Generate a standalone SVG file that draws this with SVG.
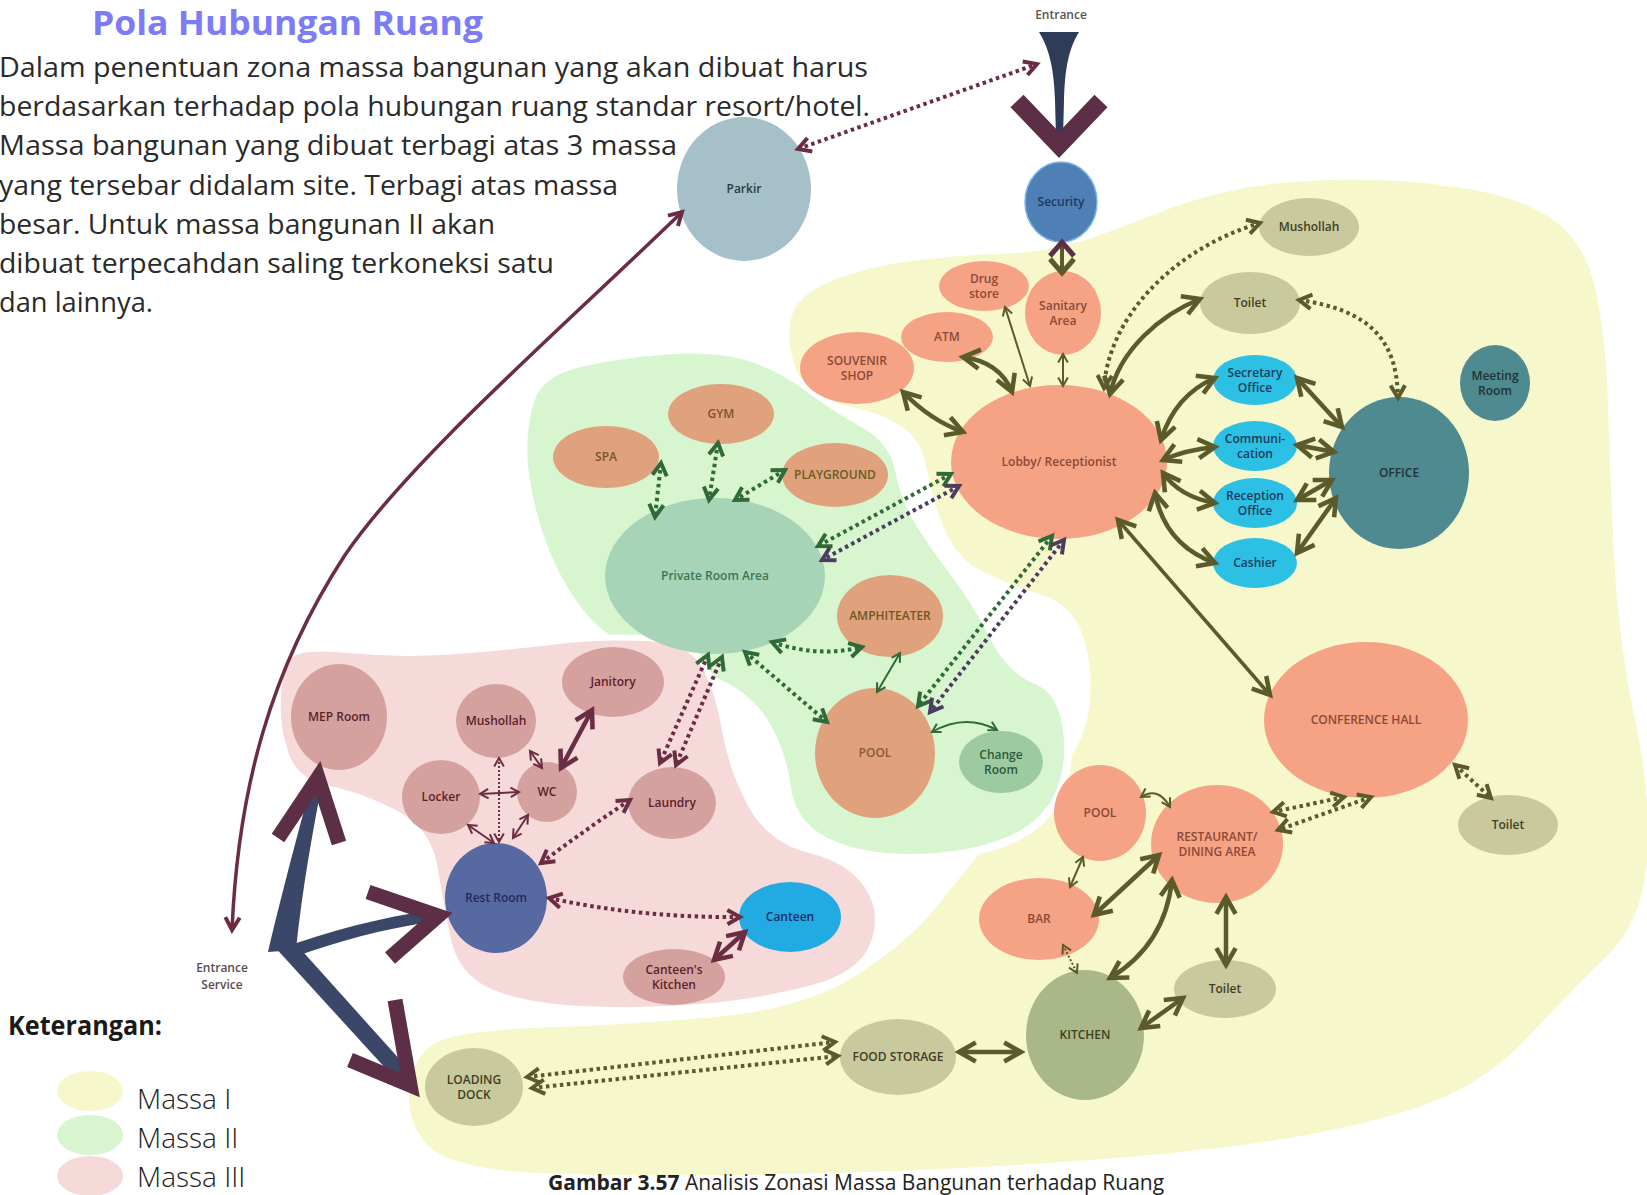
<svg xmlns="http://www.w3.org/2000/svg" width="1647" height="1195" viewBox="0 0 1647 1195">
<style>
  .lbl{font-family:"Open Sans","Noto Sans",sans-serif;font-size:12px;font-weight:600;text-anchor:middle}
  .para{font-family:"Open Sans","Noto Sans",sans-serif;font-size:28px;fill:#2a2a2a}
  .leg{font-family:"Open Sans","Noto Sans",sans-serif;font-size:28px;font-weight:300;fill:#222}
  .salmon{fill:#f6a285}.tan{fill:#e0a27c}.priv{fill:#a7d4b6}.chg{fill:#9ecaa2}
  .oliv{fill:#c9c99e}.kit{fill:#aab789}.cyan{fill:#2cc0e4}.teal{fill:#4f8a90}
  .pnk{fill:#d5a19f}.rest{fill:#5769a1}.cant{fill:#22aae2}
  .ts{fill:#8b4a36}.tt{fill:#7a5230}.to{fill:#3f3f22}.tc{fill:#1d3c5c}.tte{fill:#1f3336}
  .tp{fill:#5c1e2c}.tg{fill:#3b7656}
  .c{fill:none}
  .ol{stroke:#5a5a2b}.gr{stroke:#2f6a38}.mr{stroke:#6b2d43}.pu{stroke:#4b3c60}
  .thick{stroke-width:4.5}.thin{stroke-width:2}
  .dot{stroke-width:4;stroke-dasharray:3.5 3.5}
  .dots{stroke-width:2;stroke-dasharray:2 2}
</style>
<defs>
  <marker id="aoL" viewBox="0 0 20 20" refX="17" refY="10" markerWidth="24" markerHeight="24" markerUnits="userSpaceOnUse" orient="auto-start-reverse" overflow="visible"><path d="M3,2 L17,10 L3,18" fill="none" stroke="#5a5a2b" stroke-width="3.8"/></marker>
  <marker id="aoM" viewBox="0 0 20 20" refX="17" refY="10" markerWidth="18" markerHeight="18" markerUnits="userSpaceOnUse" orient="auto-start-reverse" overflow="visible"><path d="M3,2 L17,10 L3,18" fill="none" stroke="#5a5a2b" stroke-width="4.4"/></marker>
  <marker id="aoS" viewBox="0 0 20 20" refX="17" refY="10" markerWidth="12" markerHeight="12" markerUnits="userSpaceOnUse" orient="auto-start-reverse" overflow="visible"><path d="M3,2 L17,10 L3,18" fill="none" stroke="#5a5a2b" stroke-width="3.4"/></marker>
  <marker id="agM" viewBox="0 0 20 20" refX="17" refY="10" markerWidth="18" markerHeight="18" markerUnits="userSpaceOnUse" orient="auto-start-reverse" overflow="visible"><path d="M3,2 L17,10 L3,18" fill="none" stroke="#2f6a38" stroke-width="4.4"/></marker>
  <marker id="agS" viewBox="0 0 20 20" refX="17" refY="10" markerWidth="12" markerHeight="12" markerUnits="userSpaceOnUse" orient="auto-start-reverse" overflow="visible"><path d="M3,2 L17,10 L3,18" fill="none" stroke="#2f6a38" stroke-width="3.4"/></marker>
  <marker id="apM" viewBox="0 0 20 20" refX="17" refY="10" markerWidth="18" markerHeight="18" markerUnits="userSpaceOnUse" orient="auto-start-reverse" overflow="visible"><path d="M3,2 L17,10 L3,18" fill="none" stroke="#4b3c60" stroke-width="4.4"/></marker>
  <marker id="arL" viewBox="0 0 20 20" refX="17" refY="10" markerWidth="24" markerHeight="24" markerUnits="userSpaceOnUse" orient="auto-start-reverse" overflow="visible"><path d="M3,2 L17,10 L3,18" fill="none" stroke="#6b2d43" stroke-width="3.8"/></marker>
  <marker id="arM" viewBox="0 0 20 20" refX="17" refY="10" markerWidth="18" markerHeight="18" markerUnits="userSpaceOnUse" orient="auto-start-reverse" overflow="visible"><path d="M3,2 L17,10 L3,18" fill="none" stroke="#6b2d43" stroke-width="4.4"/></marker>
  <marker id="arS" viewBox="0 0 20 20" refX="17" refY="10" markerWidth="12" markerHeight="12" markerUnits="userSpaceOnUse" orient="auto-start-reverse" overflow="visible"><path d="M3,2 L17,10 L3,18" fill="none" stroke="#6b2d43" stroke-width="3.4"/></marker>
</defs>

<rect width="1647" height="1195" fill="#ffffff"/>

<!-- zone blobs -->
<g id="zones">
  <path id="zone-massa-1" fill="#f6f7cb" d="M795,366.5 Q785,335 792.5,314 Q800,293 835,279.5 Q870,266 915,260.5 Q960,255 1005,253.5 Q1050,252 1082.5,241 Q1115,230 1152.5,215 Q1190,200 1230,191 Q1270,182 1330,180 Q1390,178 1452.5,186.5 Q1515,195 1550,217.5 Q1585,240 1595.5,290 Q1606,340 1608,405 Q1610,470 1614,555 Q1618,640 1635,720 Q1652,800 1647,861 Q1642,922 1607,956 Q1572,990 1526,1039 Q1480,1088 1410,1110 Q1340,1132 1245,1144.5 Q1150,1157 1025,1164.5 Q900,1172 775,1174.5 Q650,1177 550,1173.5 Q450,1170 427.5,1145 Q405,1120 410,1085 Q415,1050 442.5,1040 Q470,1030 545,1027.5 Q620,1025 710,1017.5 Q800,1010 852.5,977.5 Q905,945 932.5,911.5 Q960,878 987.5,843 Q1015,808 1047.5,781.5 Q1080,755 1087.5,717.5 Q1095,680 1085,642.5 Q1075,605 1042.5,595 Q1010,585 984,572.5 Q958,560 945,530 Q932,500 927,470 Q922,440 901,426 Q880,412 842.5,405 Q805,398 795,366.5 Z"/>
  <path id="zone-massa-2" fill="#d7f6d0" stroke="#ffffff" stroke-width="8" d="M523.5,457.5 Q522,425 531,398.5 Q540,372 580,363 Q620,354 666,350.5 Q712,347 745,356 Q778,365 806.5,386.5 Q835,408 864,424 Q893,440 899,470 Q905,500 920,524 Q935,548 955,574 Q975,600 992.5,635 Q1010,670 1036,680 Q1062,690 1067,730 Q1072,770 1056,800 Q1040,830 1000,844 Q960,858 910,858 Q860,858 826,841.5 Q792,825 787,787.5 Q782,750 763.5,721 Q745,692 707.5,678.5 Q670,665 635,652.5 Q600,640 576,607.5 Q552,575 538.5,532.5 Q525,490 523.5,457.5 Z"/>
  <path id="zone-massa-3" fill="#f6dada" stroke="#ffffff" stroke-width="6" d="M278,696.5 Q280,668 289,656.5 Q298,645 349,650 Q400,655 450,651.5 Q500,648 550,642 Q600,636 645,638 Q690,640 704,665 Q718,690 725,730 Q732,770 751,805 Q770,840 810,850 Q850,860 867.5,886 Q885,912 873.5,943.5 Q862,975 811,988.5 Q760,1002 700,1007 Q640,1012 580,1009 Q520,1006 487.5,990.5 Q455,975 447.5,937.5 Q440,900 434,865 Q428,830 394,812.5 Q360,795 327.5,788.5 Q295,782 285.5,753.5 Q276,725 278,696.5 Z"/>
</g>

<!-- heading and description -->
<g id="heading">
  <text x="92" y="35" font-family="'Open Sans','Noto Sans',sans-serif" font-size="34" font-weight="700" fill="#7c7cf7" textLength="391" lengthAdjust="spacingAndGlyphs">Pola Hubungan Ruang</text>
  <text class="para" x="-1" y="77" textLength="869" lengthAdjust="spacingAndGlyphs">Dalam penentuan zona massa bangunan yang akan dibuat harus</text>
  <text class="para" x="-1" y="116" textLength="871" lengthAdjust="spacingAndGlyphs">berdasarkan terhadap pola hubungan ruang standar resort/hotel.</text>
  <text class="para" x="-1" y="155" textLength="678" lengthAdjust="spacingAndGlyphs">Massa bangunan yang dibuat terbagi atas 3 massa</text>
  <text class="para" x="-1" y="195" textLength="619" lengthAdjust="spacingAndGlyphs">yang tersebar didalam site. Terbagi atas massa</text>
  <text class="para" x="-1" y="234" textLength="496" lengthAdjust="spacingAndGlyphs">besar. Untuk massa bangunan II akan</text>
  <text class="para" x="-1" y="273" textLength="555" lengthAdjust="spacingAndGlyphs">dibuat terpecahdan saling terkoneksi satu</text>
  <text class="para" x="-1" y="312" textLength="154" lengthAdjust="spacingAndGlyphs">dan lainnya.</text>
</g>

<!-- legend -->
<g id="legend">
  <text x="8" y="1035" font-family="'Open Sans','Noto Sans',sans-serif" font-size="27" font-weight="700" fill="#1a1a1a" textLength="154" lengthAdjust="spacingAndGlyphs">Keterangan:</text>
  <ellipse cx="90" cy="1091" rx="33" ry="20" fill="#f6f7cb"/>
  <ellipse cx="90" cy="1135" rx="33" ry="20" fill="#d7f6d0"/>
  <ellipse cx="90" cy="1176" rx="33" ry="20" fill="#f6dada"/>
  <text class="leg" x="137" y="1109">Massa I</text>
  <text class="leg" x="137" y="1148">Massa II</text>
  <text class="leg" x="137" y="1187">Massa III</text>
</g>

<!-- Massa I nodes -->
<g id="n-parkir"><ellipse cx="744" cy="189" rx="67" ry="72" fill="#a6c0c9"/><text class="lbl" x="744" y="193" fill="#2c3b40">Parkir</text></g>
<g id="n-security"><ellipse cx="1061" cy="202" rx="36" ry="40" fill="#4f80b5" stroke="#7db3e6" stroke-width="1.5"/><text class="lbl" x="1061" y="206" fill="#1e3862">Security</text></g>
<g id="n-drugstore"><ellipse class="salmon" cx="984" cy="286" rx="45" ry="25"/><text class="lbl ts" x="984" y="283">Drug</text><text class="lbl ts" x="984" y="298">store</text></g>
<g id="n-sanitary"><ellipse class="salmon" cx="1063" cy="313" rx="38" ry="42"/><text class="lbl ts" x="1063" y="310">Sanitary</text><text class="lbl ts" x="1063" y="325">Area</text></g>
<g id="n-atm"><ellipse class="salmon" cx="947" cy="337" rx="46" ry="25"/><text class="lbl ts" x="947" y="341">ATM</text></g>
<g id="n-souvenir"><ellipse class="salmon" cx="857" cy="368" rx="57" ry="36"/><text class="lbl ts" x="857" y="365">SOUVENIR</text><text class="lbl ts" x="857" y="380">SHOP</text></g>
<g id="n-lobby"><ellipse class="salmon" cx="1059" cy="462" rx="108" ry="77"/><text class="lbl ts" x="1059" y="466">Lobby/ Receptionist</text></g>
<g id="n-mushollah-1"><ellipse class="oliv" cx="1309" cy="227" rx="50" ry="29"/><text class="lbl to" x="1309" y="231">Mushollah</text></g>
<g id="n-toilet-1"><ellipse class="oliv" cx="1250" cy="303" rx="50" ry="31"/><text class="lbl to" x="1250" y="307">Toilet</text></g>
<g id="n-secretary"><ellipse class="cyan" cx="1255" cy="380" rx="42" ry="25"/><text class="lbl tc" x="1255" y="377">Secretary</text><text class="lbl tc" x="1255" y="392">Office</text></g>
<g id="n-communication"><ellipse class="cyan" cx="1255" cy="446" rx="42" ry="25"/><text class="lbl tc" x="1255" y="443">Communi-</text><text class="lbl tc" x="1255" y="458">cation</text></g>
<g id="n-reception"><ellipse class="cyan" cx="1255" cy="503" rx="42" ry="25"/><text class="lbl tc" x="1255" y="500">Reception</text><text class="lbl tc" x="1255" y="515">Office</text></g>
<g id="n-cashier"><ellipse class="cyan" cx="1255" cy="563" rx="42" ry="25"/><text class="lbl tc" x="1255" y="567">Cashier</text></g>
<g id="n-office"><ellipse class="teal" cx="1399" cy="473" rx="70" ry="76"/><text class="lbl tte" x="1399" y="477">OFFICE</text></g>
<g id="n-meeting"><ellipse class="teal" cx="1495" cy="383" rx="35" ry="38"/><text class="lbl tte" x="1495" y="380">Meeting</text><text class="lbl tte" x="1495" y="395">Room</text></g>
<g id="n-conference"><ellipse class="salmon" cx="1366" cy="720" rx="102" ry="78"/><text class="lbl ts" x="1366" y="724">CONFERENCE HALL</text></g>
<g id="n-toilet-2"><ellipse class="oliv" cx="1508" cy="825" rx="50" ry="30"/><text class="lbl to" x="1508" y="829">Toilet</text></g>
<g id="n-pool-1"><ellipse class="salmon" cx="1100" cy="813" rx="46" ry="48"/><text class="lbl ts" x="1100" y="817">POOL</text></g>
<g id="n-restaurant"><ellipse class="salmon" cx="1217" cy="844" rx="66" ry="59"/><text class="lbl ts" x="1217" y="841">RESTAURANT/</text><text class="lbl ts" x="1217" y="856">DINING AREA</text></g>
<g id="n-bar"><ellipse class="salmon" cx="1039" cy="919" rx="60" ry="41"/><text class="lbl ts" x="1039" y="923">BAR</text></g>
<g id="n-kitchen"><ellipse class="kit" cx="1085" cy="1035" rx="59" ry="65"/><text class="lbl to" x="1085" y="1039">KITCHEN</text></g>
<g id="n-toilet-3"><ellipse class="oliv" cx="1225" cy="989" rx="51" ry="29"/><text class="lbl to" x="1225" y="993">Toilet</text></g>
<g id="n-foodstorage"><ellipse class="oliv" cx="898" cy="1057" rx="58" ry="38"/><text class="lbl to" x="898" y="1061">FOOD STORAGE</text></g>
<g id="n-loadingdock"><ellipse class="oliv" cx="474" cy="1087" rx="49" ry="39"/><text class="lbl to" x="474" y="1084">LOADING</text><text class="lbl to" x="474" y="1099">DOCK</text></g>

<!-- Massa II nodes -->
<g id="n-gym"><ellipse class="tan" cx="721" cy="414" rx="53" ry="30"/><text class="lbl tt" x="721" y="418">GYM</text></g>
<g id="n-spa"><ellipse class="tan" cx="606" cy="457" rx="53" ry="31"/><text class="lbl tt" x="606" y="461">SPA</text></g>
<g id="n-playground"><ellipse class="tan" cx="835" cy="475" rx="53" ry="32"/><text class="lbl" x="835" y="479" fill="#6b5a24">PLAYGROUND</text></g>
<g id="n-private"><ellipse class="priv" cx="715" cy="576" rx="110" ry="78"/><text class="lbl tg" x="715" y="580">Private Room Area</text></g>
<g id="n-amphiteater"><ellipse class="tan" cx="890" cy="616" rx="53" ry="41"/><text class="lbl" x="890" y="620" fill="#6b5a24">AMPHITEATER</text></g>
<g id="n-pool-2"><ellipse class="tan" cx="875" cy="753" rx="60" ry="65"/><text class="lbl" x="875" y="757" fill="#8a5a3a">POOL</text></g>
<g id="n-changeroom"><ellipse class="chg" cx="1001" cy="762" rx="42" ry="31"/><text class="lbl" x="1001" y="759" fill="#2c5a3a">Change</text><text class="lbl" x="1001" y="774" fill="#2c5a3a">Room</text></g>

<!-- Massa III nodes -->
<g id="n-mep"><ellipse class="pnk" cx="339" cy="717" rx="48" ry="53"/><text class="lbl tp" x="339" y="721">MEP Room</text></g>
<g id="n-mushollah-2"><ellipse class="pnk" cx="496" cy="721" rx="40" ry="37"/><text class="lbl tp" x="496" y="725">Mushollah</text></g>
<g id="n-janitory"><ellipse class="pnk" cx="613" cy="682" rx="51" ry="35"/><text class="lbl tp" x="613" y="686">Janitory</text></g>
<g id="n-locker"><ellipse class="pnk" cx="441" cy="797" rx="39" ry="37"/><text class="lbl tp" x="441" y="801">Locker</text></g>
<g id="n-wc"><ellipse class="pnk" cx="547" cy="792" rx="30" ry="30"/><text class="lbl tp" x="547" y="796">WC</text></g>
<g id="n-laundry"><ellipse class="pnk" cx="672" cy="803" rx="44" ry="36"/><text class="lbl tp" x="672" y="807">Laundry</text></g>
<g id="n-restroom"><ellipse class="rest" cx="496" cy="898" rx="51" ry="55"/><text class="lbl" x="496" y="902" fill="#1f2b5e">Rest Room</text></g>
<g id="n-canteen"><ellipse class="cant" cx="790" cy="917" rx="51" ry="35"/><text class="lbl" x="790" y="921" fill="#1a2f66">Canteen</text></g>
<g id="n-canteenkitchen"><ellipse class="pnk" cx="674" cy="977" rx="51" ry="28"/><text class="lbl tp" x="674" y="974">Canteen's</text><text class="lbl tp" x="674" y="989">Kitchen</text></g>

<!-- entrances -->
<g id="n-entrance">
  <text class="lbl" x="1061" y="19" font-size="11" fill="#555">Entrance</text>
  <path d="M1039,32 L1079,32 C1068,50 1065,70 1064,100 L1063,138 L1056,138 L1055,100 C1054,70 1050,50 1039,32 Z" fill="#2f3c58"/>
  <polyline points="1017,101 1059,145 1101,101" fill="none" stroke="#5d2f47" stroke-width="18"/>
</g>
<g id="n-entrance-service">
  <text class="lbl" x="222" y="972" fill="#5b4a52">Entrance</text>
  <text class="lbl" x="222" y="989" fill="#5b4a52">Service</text>
  <path d="M268,952 C284,885 300,825 313,778 L323,778 C313,830 302,890 296,950 Z" fill="#3a4769"/>
  <path d="M278,950 C330,930 380,918 432,910 L433,922 C385,928 335,942 292,958 Z" fill="#3a4769"/>
  <path d="M272,944 L296,944 L411,1072 L398,1082 Z" fill="#3a4769"/>
  <polyline points="278,838 318,778 339,843" fill="none" stroke="#5d2f47" stroke-width="15"/>
  <polyline points="368,892 438,916 390,958" fill="none" stroke="#5d2f47" stroke-width="15"/>
  <polyline points="395,1000 410,1085 350,1060" fill="none" stroke="#5d2f47" stroke-width="15"/>
</g>

<!-- connectors -->
<g id="connectors">
  <!-- parking links -->
  <path class="c mr" stroke-width="3.5" d="M232,930 C238,790 270,670 345,555 C410,460 560,330 682,212" marker-start="url(#arM)" marker-end="url(#arM)"/>
  <path class="c mr dot" d="M798,149 L1037,64" marker-start="url(#arM)" marker-end="url(#arM)"/>
  <!-- security to sanitary -->
  <line x1="1062" y1="244" x2="1062" y2="272" stroke="#5a5a2b" stroke-width="4"/>
  <polyline points="1050,256 1062,242 1074,256" fill="none" stroke="#5d2f47" stroke-width="5"/>
  <polyline points="1050,259 1062,273 1074,259" fill="none" stroke="#5a5a2b" stroke-width="5"/>

  <!-- Massa I, solid -->
  <g marker-start="url(#aoL)" marker-end="url(#aoL)">
    <path class="c ol thick" d="M903,392 Q930,420 963,432"/>
    <path class="c ol thick" d="M963,357 Q1000,362 1012,392"/>
    <path class="c ol thick" d="M1110,394 C1120,350 1160,315 1200,299"/>
    <path class="c ol thick" d="M1161,440 Q1175,395 1215,378"/>
    <path class="c ol thick" d="M1163,460 Q1185,450 1215,447"/>
    <path class="c ol thick" d="M1163,473 Q1180,497 1215,503"/>
    <path class="c ol thick" d="M1155,493 Q1165,545 1215,563"/>
    <path class="c ol thick" d="M1297,378 L1342,427"/>
    <path class="c ol thick" d="M1297,445 L1334,452"/>
    <path class="c ol thick" d="M1297,500 L1332,480"/>
    <path class="c ol thick" d="M1297,553 L1336,498"/>
    <path class="c ol" stroke-width="3.5" d="M1118,520 L1270,695"/>
    <path class="c ol thick" d="M1159,855 L1094,915"/>
    <path class="c ol thick" d="M1172,880 Q1165,945 1110,978"/>
    <path class="c ol thick" d="M1226,897 L1226,965"/>
    <path class="c ol thick" d="M1141,1028 L1183,998"/>
    <path class="c ol thick" d="M959,1052 L1021,1052"/>
  </g>
  <g marker-start="url(#aoS)" marker-end="url(#aoS)">
    <path class="c ol thin" d="M1005,307 L1030,386"/>
    <path class="c ol thin" d="M1063,354 L1063,386"/>
    <path class="c ol thin" d="M1141,797 Q1158,786 1170,807"/>
    <path class="c ol thin" d="M1083,857 L1070,887"/>
    <path class="c ol dots" d="M1063,945 L1077,973"/>
  </g>
  <g marker-start="url(#aoM)" marker-end="url(#aoM)">
    <path class="c ol dot" d="M1104,388 C1108,320 1170,250 1260,223"/>
    <path class="c ol dot" d="M1299,300 C1370,310 1397,340 1398,398"/>
    <path class="c ol dot" d="M1455,765 L1491,798"/>
    <path class="c ol dot" d="M1344,797 L1273,812"/>
    <path class="c ol dot" d="M1371,797 L1278,830"/>
    <path class="c ol dot" d="M527,1077 L835,1042"/>
    <path class="c ol dot" d="M532,1088 L838,1056"/>
  </g>

  <!-- Massa II -->
  <g marker-start="url(#agM)" marker-end="url(#agM)">
    <path class="c gr dot" d="M661,463 L655,517"/>
    <path class="c gr dot" d="M718,443 L709,500"/>
    <path class="c gr dot" d="M785,470 L735,500"/>
    <path class="c gr dot" d="M772,642 Q818,658 862,647"/>
    <path class="c gr dot" d="M745,652 L827,722"/>
    <path class="c gr dot" d="M951,474 L818,546"/>
    <path class="c gr dot" d="M1052,536 L918,706"/>
  </g>
  <g marker-start="url(#apM)" marker-end="url(#apM)">
    <path class="c pu dot" d="M959,486 L822,560"/>
    <path class="c pu dot" d="M1064,540 L930,712"/>
  </g>
  <g marker-start="url(#agS)" marker-end="url(#agS)">
    <path class="c gr thin" d="M900,653 L877,692"/>
    <path class="c gr thin" d="M932,732 Q965,713 997,730"/>
  </g>
  <path class="c mr dot" d="M708,655 L660,763" marker-start="url(#agM)" marker-end="url(#arM)"/>
  <path class="c mr dot" d="M722,657 L676,765" marker-start="url(#agM)" marker-end="url(#arM)"/>

  <!-- Massa III -->
  <g marker-start="url(#arS)" marker-end="url(#arS)">
    <path class="c mr thin" d="M530,751 L542,768"/>
    <path class="c mr thin" d="M480,794 L519,792"/>
    <path class="c mr dots" d="M499,758 L499,842"/>
    <path class="c mr thin" d="M468,825 L494,843"/>
    <path class="c mr thin" d="M528,815 L513,838"/>
  </g>
  <g marker-start="url(#arL)" marker-end="url(#arL)">
    <path class="c mr thick" d="M592,710 L561,768"/>
    <path class="c mr thick" d="M714,960 L745,932"/>
  </g>
  <g marker-start="url(#arM)" marker-end="url(#arM)">
    <path class="c mr dot" d="M541,863 Q585,830 630,800"/>
    <path class="c mr dot" d="M549,898 Q640,918 740,917"/>
  </g>
</g>

<text x="548" y="1190" font-family="'Open Sans','Noto Sans',sans-serif" font-size="21" fill="#222"><tspan font-weight="700">Gambar 3.57</tspan> Analisis Zonasi Massa Bangunan terhadap Ruang</text>
</svg>
